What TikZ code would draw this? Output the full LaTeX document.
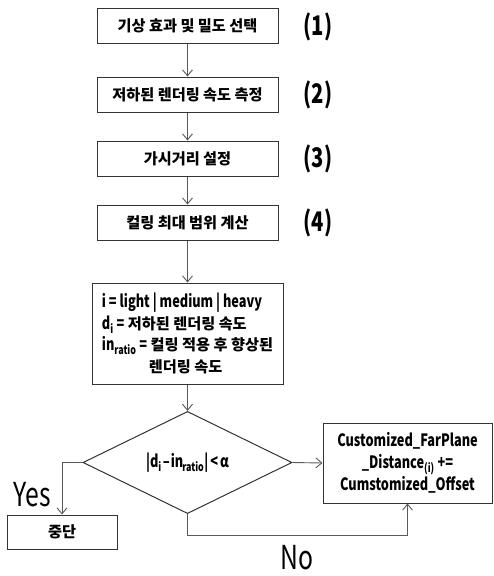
\documentclass[tikz,border=0pt]{standalone}
\usepackage{fontspec}
\setmainfont{Noto Sans CJK KR}
\newfontfamily\cnd{Noto Sans CJK KR}[FakeStretch=0.75]
\usetikzlibrary{shapes.geometric,arrows.meta}
\begin{document}
\begin{tikzpicture}[x=1pt,y=-1pt,
  box/.style={draw=black!80, line width=1pt, minimum width=181, minimum height=35, inner sep=0pt,
    font=\fontsize{15.2}{18}\selectfont\bfseries},
  arr/.style={draw=black!65, line width=0.9pt, -{Straight Barb[length=6pt,width=10pt]}},
  num/.style={font=\cnd\bfseries\fontsize{27}{27}\selectfont, inner sep=0pt},
  lbl/.style={font=\cnd\fontsize{33}{33}\selectfont, inner sep=0pt}
]
\fill[white] (0,0) rectangle (493,576);
\useasboundingbox (0,0) rectangle (493,576);

\node[box] (b1) at (187.5,25.5) {기상 효과 및 밀도 선택};
\node[box] (b2) at (187.5,94.5) {저하된 렌더링 속도 측정};
\node[box] (b3) at (187.5,158.5) {가시거리 설정};
\node[box] (b4) at (187.5,222.5) {컬링 최대 범위 계산};

\node[num] (n1) at (318,27) {(1)};
\node[num] (n2) at (318,95) {(2)};
\node[num] (n3) at (318,159) {(3)};
\node[num] (n4) at (318,223) {(4)};

\node[box, minimum width=191, minimum height=101, align=left,
  font=\fontsize{15.2}{21.7}\selectfont\bfseries] (b5) at (187.5,333.5)
  {{\cnd\fontsize{17}{21.7}\selectfont i = light | medium | heavy}\\
   {\cnd\fontsize{17}{21.7}\selectfont d\textsubscript{i} =} 저하된 렌더링 속도\\
   {\cnd\fontsize{17}{21.7}\selectfont in\textsubscript{ratio} =} 컬링 적용 후 향상된\\
   \hspace*{47pt}렌더링 속도};

\node[draw=black!80, line width=1pt, diamond, minimum width=209, minimum height=69, inner sep=0pt,
  font=\cnd\bfseries\fontsize{17}{20}\selectfont] (d) at (187.5,462.5)
  {|d\textsubscript{i}\kern1pt–\kern1pt in\textsubscript{\kern-1pt ratio}|\kern2pt<\kern2pt α};

\node[box, minimum width=169, minimum height=80, align=center,
  font=\cnd\bfseries\fontsize{17}{22}\selectfont] (r) at (407.5,463)
  {Customized\_FarPlane\\ \_Distance\textsubscript{(i)} +=\\ Cumstomized\_Offset};

\node[box, minimum width=110, minimum height=34] (s) at (62,532) {중단};

\node[lbl] (yes) at (32,495) {Yes};
\node[lbl] (no) at (297,558) {No};

\coordinate (lowy) at (0,535);

\draw[arr] (b1) -- (b2);
\draw[arr] (b2) -- (b3);
\draw[arr] (b3) -- (b4);
\draw[arr] (b4) -- (b5);
\draw[arr] (b5) -- (d);
\draw[arr] (d.west) -- (d.west -| s.north) -- (s.north);
\draw[arr] (d.east) -- (r.west);
\draw[arr] (d.south) -- (d.south |- lowy) -| (r.south);
\end{tikzpicture}
\end{document}
